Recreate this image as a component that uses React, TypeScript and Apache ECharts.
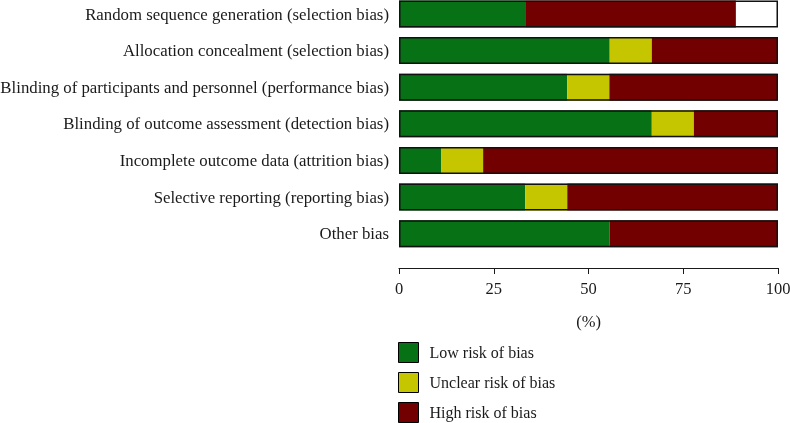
import React, { useEffect, useRef } from "react";
import * as echarts from "echarts";

const categories = [
  "Random sequence generation (selection bias)",
  "Allocation concealment (selection bias)",
  "Blinding of participants and personnel (performance bias)",
  "Blinding of outcome assessment (detection bias)",
  "Incomplete outcome data (attrition bias)",
  "Selective reporting (reporting bias)",
  "Other bias",
];
const lowRisk = [33.3, 55.6, 44.4, 66.7, 11.1, 33.3, 55.6];
const unclearRisk = [0, 11.1, 11.1, 11.1, 11.1, 11.1, 0];
const highRisk = [55.6, 33.3, 44.4, 22.2, 77.8, 55.6, 44.4];
const notReported = [11.1, 0, 0, 0, 0, 0, 0];
const outline = [100, 100, 100, 100, 100, 100, 100];
const xTicks = [0, 25, 50, 75, 100];

const FONT = "Liberation Serif";

export default function App() {
  const ref = useRef<HTMLDivElement>(null);
  useEffect(() => {
    if (!ref.current) return;
    const chart = echarts.init(ref.current, null, { renderer: "svg" });
    const barW = 27;
    chart.setOption({
      animation: false,
      textStyle: { fontFamily: FONT },
      grid: {
        left: 399,
        right: 12,
        top: -4.3,
        bottom: 171,
        containLabel: false,
        outerBoundsMode: "none",
      },
      legend: {
        orient: "vertical",
        left: 398,
        top: 342,
        padding: 0,
        height: 100,
        itemWidth: 20,
        itemHeight: 20,
        itemGap: 9,
        icon: "rect",
        itemStyle: { borderColor: "#000", borderWidth: 1 },
        textStyle: { fontFamily: FONT, fontSize: 16, color: "#1a1a1a", padding: [0, 0, 0, 6] },
        data: ["Low risk of bias", "Unclear risk of bias", "High risk of bias"],
      },
      xAxis: {
        type: "value",
        min: 0,
        max: 100,
        interval: 25,
        offset: 16,
        name: "(%)",
        nameLocation: "middle",
        nameGap: 45,
        nameTextStyle: { fontFamily: FONT, fontSize: 16.5, color: "#1a1a1a" },
        axisLine: { show: true, lineStyle: { color: "#1a1a1a", width: 1.2 } },
        axisTick: { show: true, length: 6, lineStyle: { color: "#1a1a1a" } },
        axisLabel: {
          fontFamily: FONT,
          fontSize: 16.5,
          color: "#1a1a1a",
          margin: 12,
          formatter: (v: number) => (xTicks.includes(v) ? String(v) : ""),
        },
        splitLine: { show: false },
      },
      yAxis: {
        type: "category",
        data: categories,
        inverse: true,
        axisLine: { show: false },
        axisTick: { show: false },
        axisLabel: { fontFamily: FONT, fontSize: 16.8, color: "#1a1a1a", margin: 10 },
      },
      series: [
        {
          name: "Low risk of bias",
          type: "bar",
          stack: "risk",
          barWidth: barW,
          data: lowRisk,
          itemStyle: { color: "#077215" },
        },
        {
          name: "Unclear risk of bias",
          type: "bar",
          stack: "risk",
          barWidth: barW,
          data: unclearRisk,
          itemStyle: { color: "#c5c500" },
        },
        {
          name: "High risk of bias",
          type: "bar",
          stack: "risk",
          barWidth: barW,
          data: highRisk,
          itemStyle: { color: "#730000" },
        },
        {
          name: "Not reported",
          type: "bar",
          stack: "risk",
          barWidth: barW,
          data: notReported,
          itemStyle: { color: "#ffffff" },
        },
        {
          name: "outline",
          type: "bar",
          barWidth: barW,
          barGap: "-100%",
          data: outline,
          silent: true,
          z: 5,
          itemStyle: { color: "rgba(0,0,0,0)", borderColor: "#111", borderWidth: 1.5 },
        },
      ],
    });
    return () => chart.dispose();
  }, []);
  return (
    <div
      ref={ref}
      style={{ position: "fixed", left: 0, top: 0, width: 790, height: 423 }}
    />
  );
}
